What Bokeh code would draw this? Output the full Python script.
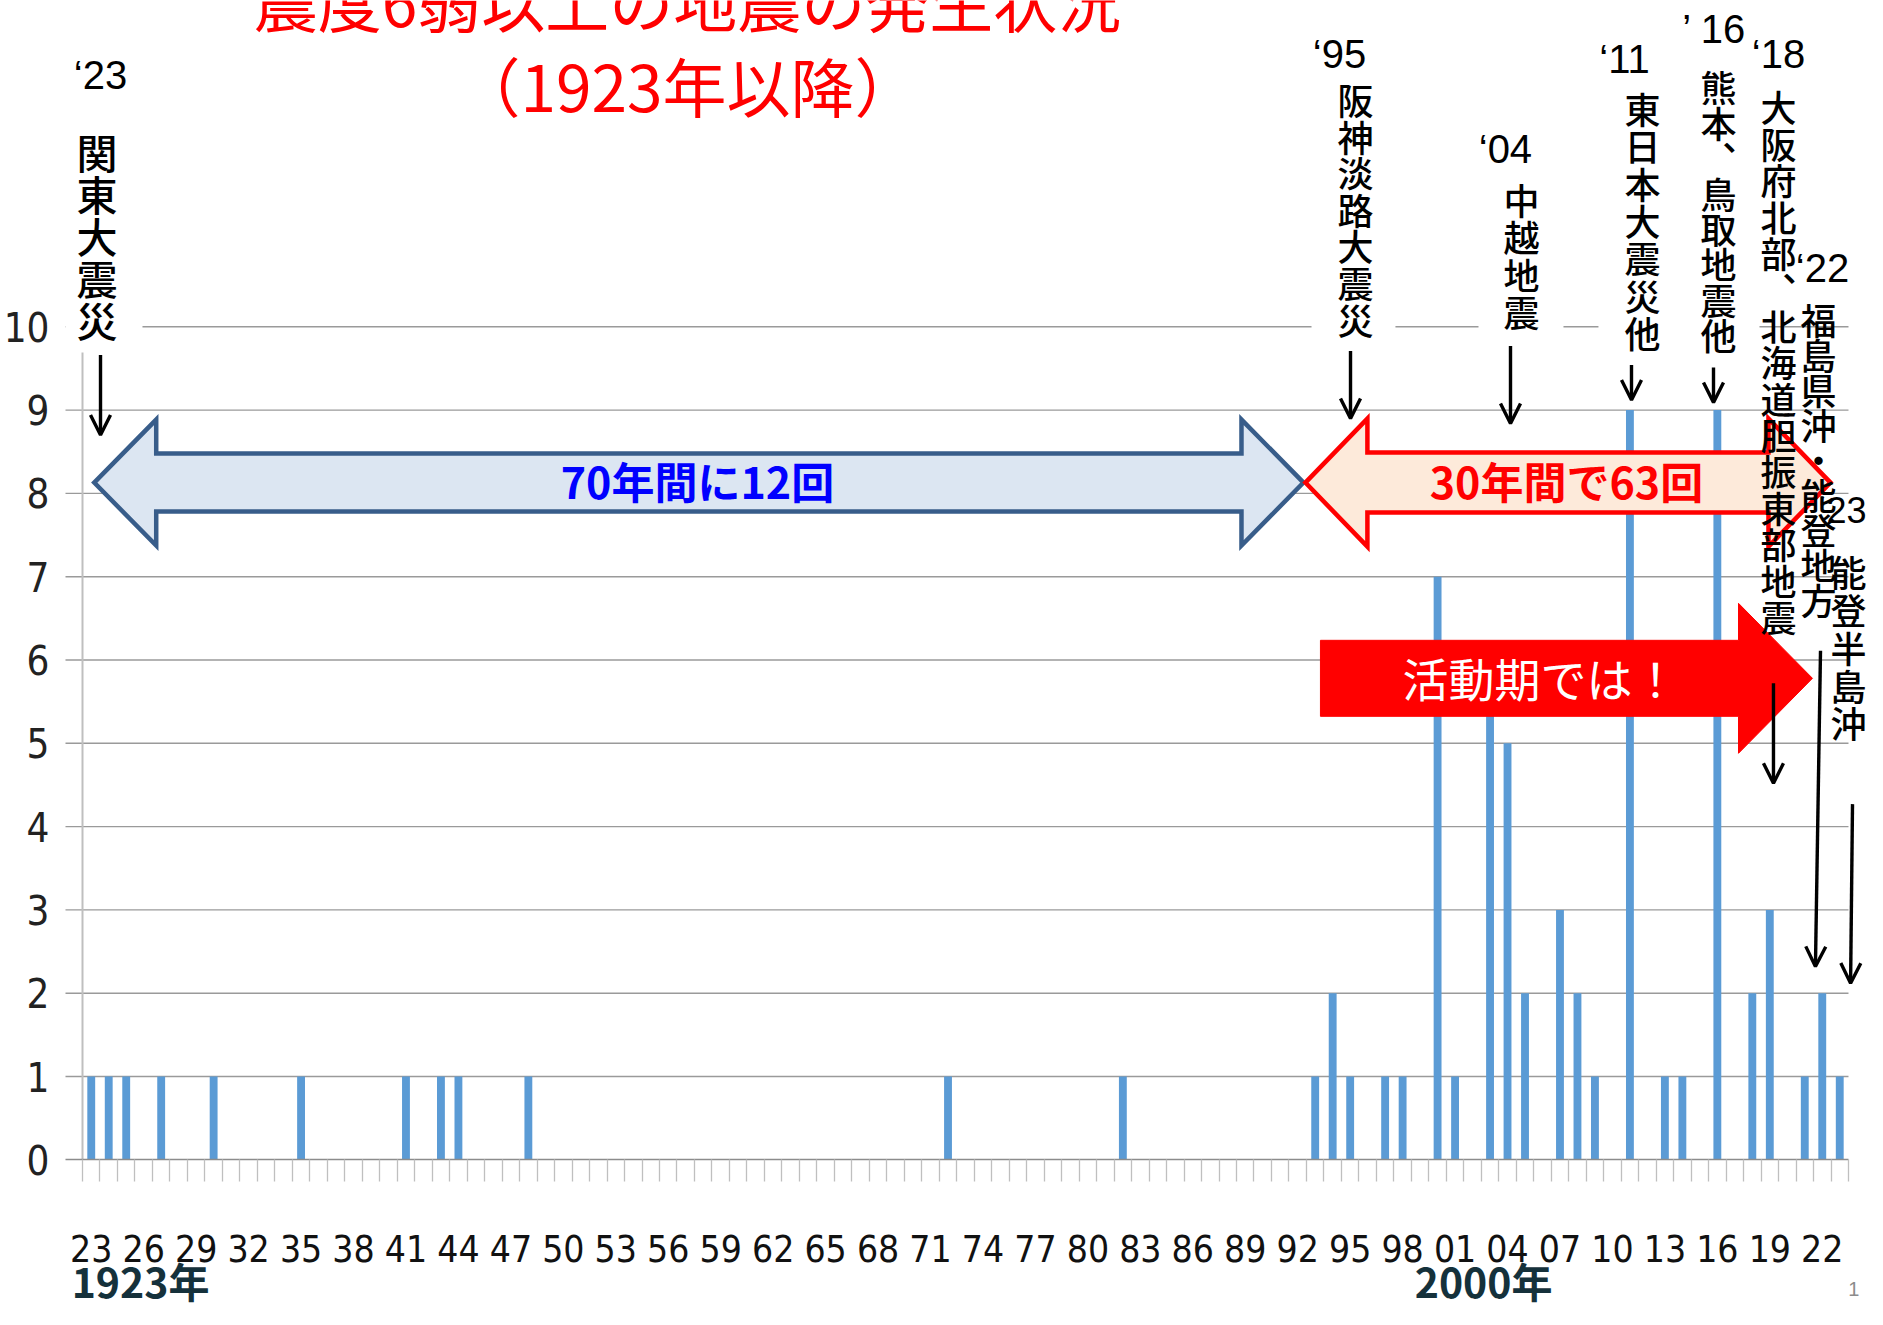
from bokeh.plotting import figure
from bokeh.models import (Range1d, FixedTicker, CustomJSTickFormatter, Label, Arrow,
                          OpenHead, LinearAxis, ColumnDataSource)
from bokeh.core.properties import value
from bokeh.embed import file_html
from bokeh.resources import INLINE

# ---------------- data ----------------
years = list(range(1923, 2024))
counts = [
    1, 1, 1, 0, 1, 0, 0, 1, 0, 0,   # 1923-1932
    0, 0, 1, 0, 0, 0, 0, 0, 1, 0,   # 1933-1942
    1, 1, 0, 0, 0, 1, 0, 0, 0, 0,   # 1943-1952
    0, 0, 0, 0, 0, 0, 0, 0, 0, 0,   # 1953-1962
    0, 0, 0, 0, 0, 0, 0, 0, 0, 1,   # 1963-1972
    0, 0, 0, 0, 0, 0, 0, 0, 0, 1,   # 1973-1982
    0, 0, 0, 0, 0, 0, 0, 0, 0, 0,   # 1983-1992
    1, 2, 1, 0, 1, 1, 0, 7, 1, 0,   # 1993-2002
    6, 5, 2, 0, 3, 2, 1, 0, 9, 0,   # 2003-2012
    1, 1, 0, 9, 0, 2, 3, 0, 1, 2,   # 2013-2022
    1,                              # 2023
]
tick_years = list(range(1923, 2024, 3))
tick_labels = ["23", "26", "29", "32", "35", "38", "41", "44", "47", "50", "53", "56",
               "59", "62", "65", "68", "71", "74", "77", "80", "83", "86", "89", "92",
               "95", "98", "01", "04", "07", "10", "13", "16", "19", "22"]
y_ticks = [0, 1, 2, 3, 4, 5, 6, 7, 8, 9, 10]

title_lines = ["震度6弱以上の地震の発生状況", "（1923年以降）"]
event_tags = ["‘23", "‘95", "‘04", "‘11", "’ 16", "‘18", "‘22", "‘23"]
event_names = ["関東大震災", "阪神淡路大震災", "中越地震", "東日本大震災他",
               "熊本︑鳥取地震他", "大阪府北部︑北海道胆振東部地震",
               "福島県沖・能登地方", "能登半島沖"]
period_texts = ["70年間に12回", "30年間で63回", "活動期では！"]
era_labels = ["1923年", "2000年"]

# ---------------- layout constants (pixels per unit) ----------------
CW = 17.485          # px per year
PY = 83.3            # px per count
FRAME_LEFT = 54
X_START = 1923 - (82 - FRAME_LEFT) / CW
X_END = X_START + (1867 - FRAME_LEFT) / CW
Y_START = -(1309 - 1159.3) / PY
Y_END = 1159.3 / PY
GRID_X0 = 1923 - 17 / CW
GRID_X1 = 2024
NARROW = "DejaVu Sans Condensed, Liberation Sans"
CJK_MED = "Noto Sans CJK JP Medium, Noto Sans CJK JP"

p = figure(width=1867, height=1309, output_backend="svg", toolbar_location=None,
           x_range=Range1d(X_START, X_END), y_range=Range1d(Y_START, Y_END),
           x_axis_type=None, y_axis_type=None,
           min_border_left=FRAME_LEFT, min_border_right=0, min_border_top=0, min_border_bottom=0)
p.outline_line_color = None
p.background_fill_color = "white"
p.border_fill_color = "white"

# axes
xaxis = LinearAxis(
    ticker=FixedTicker(ticks=[y + 0.5 for y in tick_years], minor_ticks=list(range(1923, 2025))),
    formatter=CustomJSTickFormatter(args=dict(years=tick_years, labels=tick_labels),
                                    code="const i = years.indexOf(Math.round(tick - 0.5)); return i >= 0 ? labels[i] : '';"),
    bounds=(GRID_X0, GRID_X1), fixed_location=0,
    axis_line_color="#8c8c8c", axis_line_width=1.6,
    major_tick_out=0, major_tick_in=0,
    minor_tick_out=22, minor_tick_in=0, minor_tick_line_color="#bfbfbf", minor_tick_line_width=1.3,
    major_label_standoff=53,
    major_label_text_font=NARROW, major_label_text_font_size="37px",
    major_label_text_color="#111111")
p.add_layout(xaxis, "below")

yaxis = LinearAxis(
    ticker=FixedTicker(ticks=y_ticks),
    axis_line_color=None, major_tick_out=0, major_tick_in=0, minor_tick_out=0, minor_tick_in=0,
    major_label_standoff=5,
    major_label_text_font=NARROW, major_label_text_font_size="40px",
    major_label_text_color="#222222")
p.add_layout(yaxis, "left")

# gridlines (with left extension like the original)
gy = y_ticks[1:]
p.segment(x0=[GRID_X0] * len(gy), x1=[GRID_X1] * len(gy), y0=gy, y1=gy,
          line_color="#9a9a9a", line_width=1.4)
# vertical axis line
p.segment(x0=[1923], y0=[0], x1=[1923], y1=[9.7], line_color="#bfbfbf", line_width=2)

# white text-box backgrounds
p.quad(left=[1922.03, 1993.29, 2002.84, 2009.70], right=[1926.43, 1998.09, 2007.70, 2018.91],
       bottom=[9.69, 9.78, 9.78, 9.78], top=[12.4, 12.95, 11.8, 13.2],
       fill_color="white", line_color=None)

# bars
src = ColumnDataSource(dict(x=[y + 0.5 for y in years], top=counts))
p.vbar(x="x", top="top", bottom=0, width=0.45, source=src, fill_color="#5b9bd5", line_color=None)


# big arrows
def double_arrow(xl, xr, yc, hl, sh, hh):
    xs = [xl, xl + hl, xl + hl, xr - hl, xr - hl, xr, xr - hl, xr - hl, xl + hl, xl + hl]
    ys = [yc, yc + hh, yc + sh, yc + sh, yc + hh, yc, yc - hh, yc - sh, yc - sh, yc - hh]
    return xs, ys


def single_arrow(xl, xb, xt, yc, sh, hh):
    xs = [xl, xb, xb, xt, xb, xb, xl]
    ys = [yc + sh, yc + sh, yc + hh, yc, yc - hh, yc - sh, yc - sh]
    return xs, ys


bx, by = double_arrow(1923.67, 1992.83, 8.13, 62 / CW, 29 / PY, 63 / PY)
p.patch(bx, by, fill_color="#dce6f2", line_color="#385d8a", line_width=4.5, line_join="miter")
rx, ry = double_arrow(1992.94, 2022.97, 8.13, 62 / CW, 30 / PY, 64 / PY)
p.patch(rx, ry, fill_color="#fdeada", line_color="#ff0000", line_width=4.5, line_join="miter")
sx, sy = single_arrow(1993.80, 2017.71, 2021.94, 5.78, 38 / PY, 75 / PY)
p.patch(sx, sy, fill_color="#ff0000", line_color="#ff0000", line_width=1)

# vertical event names
name_x = [1923.83, 1995.80, 2005.30, 2012.22, 2016.57, 2020.0, 2022.29, 2024.0]
name_y1 = [12.115, 12.735, 11.535, 12.625, 12.885, 12.645, 10.095, 7.065]
name_pitch = [42.2, 36.6, 37.3, 37.3, 35.4, 36.4, 35.0, 37.75]
name_size = [41, 36, 36, 36, 36, 36, 36, 36]
for s, x, y1, pt, fs in zip(event_names, name_x, name_y1, name_pitch, name_size):
    chars = list(s)
    ys = [y1 - k * pt / PY for k in range(len(chars))]
    p.text(x=[x] * len(chars), y=ys, text=chars, text_align="center", text_baseline="middle",
           text_font=value(CJK_MED), text_font_size=f"{fs}px", text_color="black")

# year tags
tag_x = [1924.03, 1994.89, 2004.38, 2011.19, 2016.34, 2020.0, 2022.51, 2023.66]
tag_y = [13.02, 13.27, 12.14, 13.22, 13.58, 13.27, 10.71, 7.79]
tag_size = [40, 40, 40, 40, 40, 40, 40, 36]
for t, x, y, fs in zip(event_tags, tag_x, tag_y, tag_size):
    p.add_layout(Label(x=x, y=y, text=t, text_align="center", text_baseline="middle",
                       text_font="Liberation Sans", text_font_size=f"{fs}px", text_color="black"))

# black pointer arrows
arrows = [(1924.03, 9.66, 1924.03, 8.70), (1995.52, 9.71, 1995.52, 8.90),
          (2004.67, 9.77, 2004.67, 8.84), (2011.59, 9.54, 2011.59, 9.12),
          (2016.28, 9.51, 2016.28, 9.09), (2019.71, 5.72, 2019.71, 4.52),
          (2022.40, 6.11, 2022.11, 2.32), (2024.23, 4.27, 2024.12, 2.12)]
for x0, y0, x1, y1 in arrows:
    p.add_layout(Arrow(x_start=x0, y_start=y0, x_end=x1, y_end=y1, line_width=3.4, line_color="black",
                       end=OpenHead(size=20, line_width=3.4, line_color="black")))

# title
p.add_layout(Label(x=1957.6, y=13.94, text=title_lines[0], text_align="center", text_baseline="middle",
                   text_font="Noto Sans CJK JP", text_font_size="64px", text_color="#ff0000"))
p.add_layout(Label(x=1957.6, y=12.92, text=title_lines[1], text_align="center", text_baseline="middle",
                   text_font="Noto Sans CJK JP", text_font_size="64px", text_color="#ff0000"))

# arrow texts
p.add_layout(Label(x=1958.17, y=8.16, text=period_texts[0], text_align="center", text_baseline="middle",
                   text_font="Noto Sans CJK JP", text_font_style="bold", text_font_size="43px",
                   text_color="#0000ff"))
p.add_layout(Label(x=2007.87, y=8.16, text=period_texts[1], text_align="center", text_baseline="middle",
                   text_font="Noto Sans CJK JP", text_font_style="bold", text_font_size="43px",
                   text_color="#ff0000"))
p.add_layout(Label(x=2006.38, y=5.80, text=period_texts[2], text_align="center", text_baseline="middle",
                   text_font="Noto Sans CJK JP", text_font_size="46px", text_color="white"))

# era labels below axis (kept fully inside the canvas)
for t, x in zip(era_labels, [1926.32, 2003.13]):
    p.add_layout(Label(x=x, y=-1.44, text=t, text_align="center", text_baseline="middle",
                       text_font="Noto Sans CJK JP", text_font_style="bold", text_font_size="41px",
                       text_color="#15313b"))
# page number
p.add_layout(Label(x=2024.3, y=-1.47, text="1", text_align="center", text_baseline="top",
                   text_font="Liberation Sans", text_font_size="20px", text_color="#8c8c8c"))

open("out.html", "w").write(file_html(p, INLINE))
